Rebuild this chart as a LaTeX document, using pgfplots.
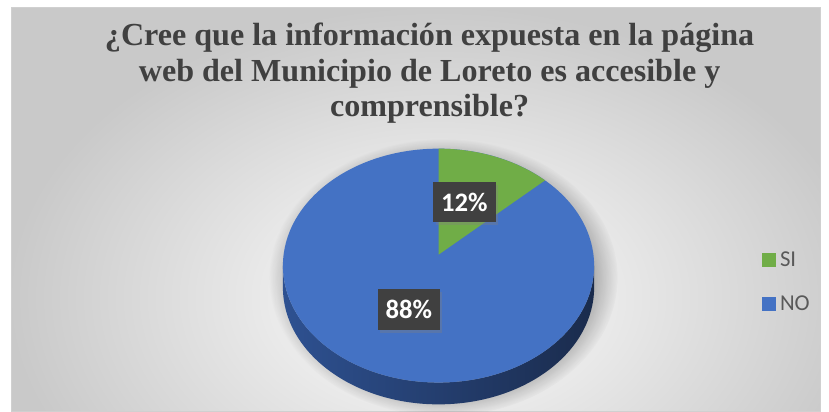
\documentclass[border=0pt]{standalone}
\usepackage{pgfplots}
\pgfplotsset{compat=1.18}
\usepackage{pgfplotstable}
\usepackage{fontspec}
\setmainfont{Liberation Serif}
\newfontfamily\calibri{Carlito}
\usetikzlibrary{shadows,fadings}

\definecolor{siGreen}{HTML}{70AD47}
\definecolor{noBlue}{HTML}{4472C4}
\definecolor{sideL}{HTML}{2E5191}
\definecolor{sideM}{HTML}{1F355F}
\definecolor{sideR}{HTML}{1A2B4C}
\definecolor{lblGray}{HTML}{404040}
\definecolor{titleGray}{HTML}{404040}
\definecolor{legGray}{HTML}{595959}
\definecolor{frameGray}{HTML}{D0D0D0}

% respuestas (porcentaje)
\pgfplotstableread{
label value
SI 12
NO 88
}\piedata

\begin{document}
\pgfplotstablegetelem{0}{value}\of\piedata \edef\vSI{\pgfplotsretval}
\pgfplotstablegetelem{1}{value}\of\piedata \edef\vNO{\pgfplotsretval}
\pgfmathsetmacro\aEnd{90-3.6*\vSI}
\begin{tikzpicture}
\begin{axis}[
    width=829bp, height=415bp, scale only axis,
    xmin=0, xmax=829, ymin=0, ymax=415,
    hide axis, clip=false,
    legend cell align=left,
    legend image code/.code={\fill[#1] (0bp,-6.5bp) rectangle (13bp,6.5bp); \path (16bp,0bp);},
    legend style={at={(axis cs:760,130.5)}, anchor=west, draw=none, fill=none,
        font=\calibri\fontsize{23}{27}\selectfont, text=legGray,
        row sep=24bp, inner sep=1bp},
  ]
  % fondo
  \begin{scope}
    \clip (axis cs:4,0) rectangle (axis cs:820,407);
    \shade[inner color=white, outer color=gray!42]
      (axis cs:4,-177) rectangle (axis cs:866,407);
  \end{scope}
  \draw[frameGray, line width=1bp] (axis cs:4,0) rectangle (axis cs:820,407);
  % sombra
  \fill[black, opacity=0.35, path fading=circle with fuzzy edge 20 percent]
    (axis cs:440,135) ellipse[x radius=176bp, y radius=140bp];
  % lado
  \shade[left color=sideL, middle color=sideM, right color=sideR]
    (axis cs:278,147) arc[start angle=180, end angle=360, x radius=157bp, y radius=118bp]
    -- ++(0,-22bp) arc[start angle=0, end angle=-180, x radius=157bp, y radius=118bp] -- cycle;
  % cara superior
  \fill[noBlue] (axis cs:435,147) ellipse[x radius=157bp, y radius=118bp];
  \fill[siGreen] (axis cs:435,158) -- (axis cs:435,265)
    arc[start angle=90, end angle=\aEnd, x radius=157bp, y radius=118bp] -- cycle;

  \addlegendimage{siGreen}
  \addlegendentry{SI}
  \addlegendimage{noBlue}
  \addlegendentry{NO}

  % etiquetas
  \tikzset{lbl/.style={fill=lblGray, text=white,
      font=\calibri\bfseries\fontsize{27}{31}\selectfont,
      minimum width=63bp, minimum height=41bp, inner sep=0pt,
      drop shadow={shadow xshift=2.5bp, shadow yshift=-3bp, opacity=0.35}}}
  \node[lbl] at (axis cs:461,211) {\vSI\%};
  \node[lbl] at (axis cs:405,103) {\vNO\%};

  % titulo
  \tikzset{ttl/.style={anchor=base, text=titleGray,
      font=\bfseries\fontsize{32.5}{38}\selectfont, inner sep=0pt}}
  \node[ttl] at (axis cs:426,369) {¿Cree que la información expuesta en la página};
  \node[ttl] at (axis cs:426,333) {web del Municipio de Loreto es accesible y};
  \node[ttl] at (axis cs:426,297) {comprensible?};
\end{axis}
\pgfresetboundingbox
\path (0,0) rectangle (829bp,415bp);
\end{tikzpicture}
\end{document}
